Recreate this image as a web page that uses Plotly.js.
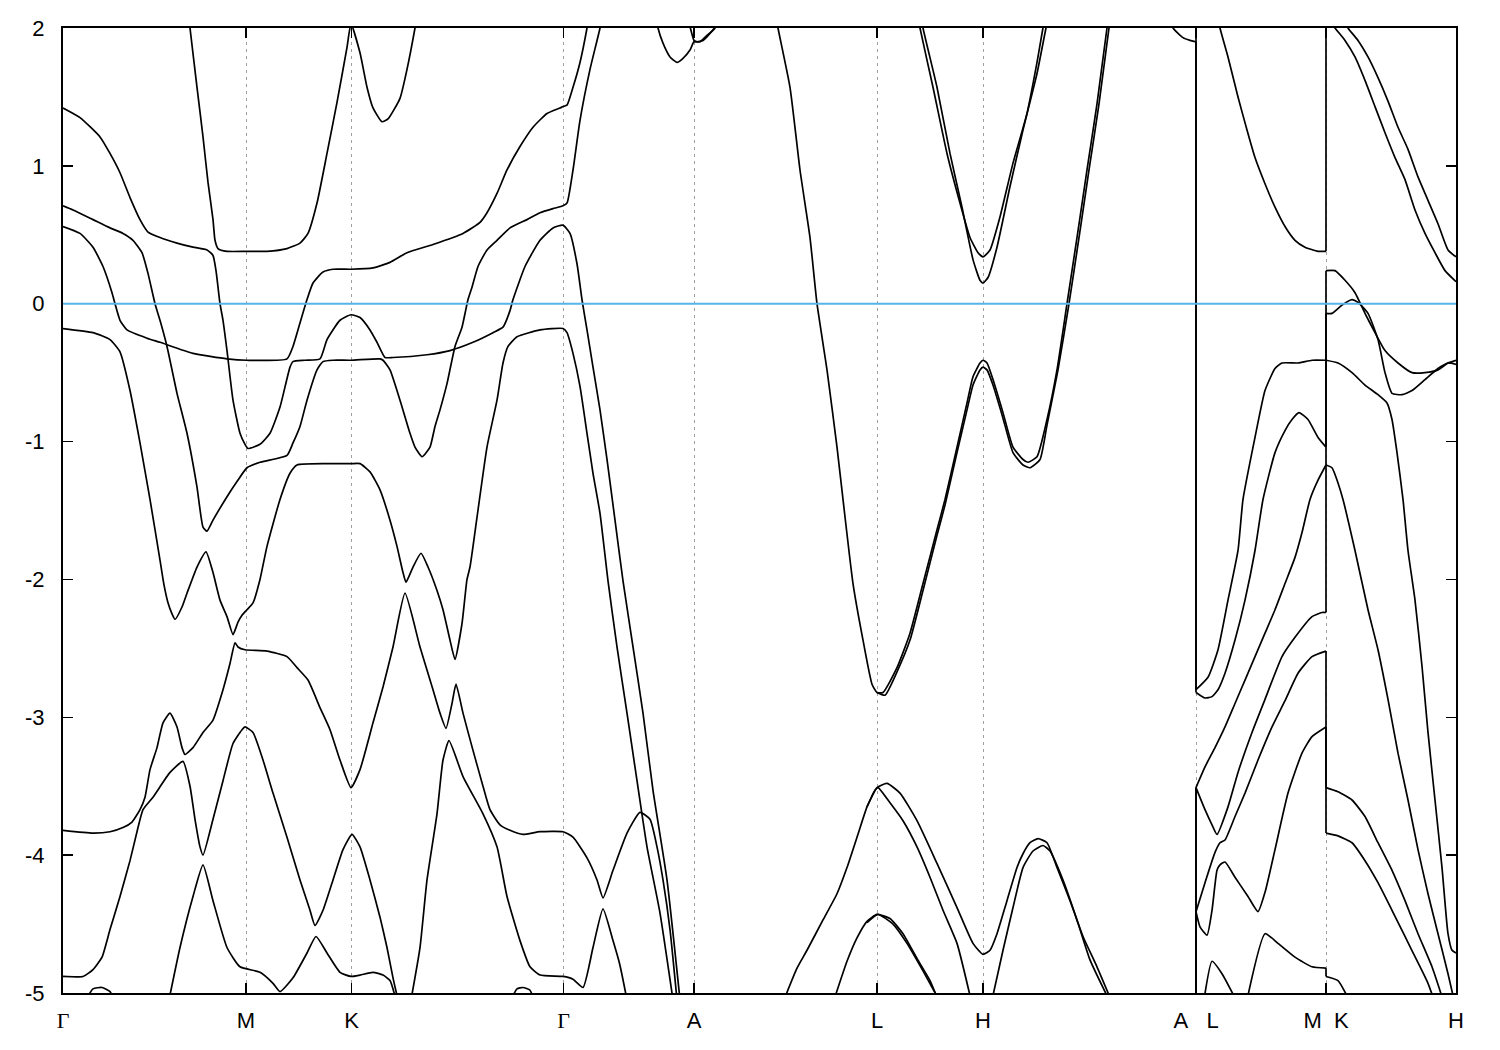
<!DOCTYPE html>
<html>
<head>
<meta charset="utf-8">
<script src="https://cdn.plot.ly/plotly-3.0.1.min.js"></script>
<style>html,body{margin:0;padding:0;background:#fff;}#plot{width:1500px;height:1050px;}</style>
</head>
<body>
<div id="plot"></div>
<script>
// ---- axis / tick data ----
const kTicks = [0.00, 1.83, 2.885, 5.005, 6.31, 8.14, 9.20, 11.33, 12.63, 13.93];
const kTickLabels = ['<span style="font-family:\'Liberation Serif\',\'DejaVu Serif\',serif">Γ</span>', 'M', 'K',
  '<span style="font-family:\'Liberation Serif\',\'DejaVu Serif\',serif">Γ</span>', 'A', 'L', 'H',
  'A\u00a0\u00a0\u00a0L', 'M\u00a0\u00a0K', 'H'];
const eTicks = [-5, -4, -3, -2, -1, 0, 1, 2];
const eTickLabels = ['-5', '-4', '-3', '-2', '-1', '0', '1', '2'];
const kRange = [0, 13.93];
const eRange = [-5, 2];
const fermiLevel = 0;

// ---- bands: [k, E] pairs ----
const bandA = [[0.00,1.42],[0.17,1.35],[0.37,1.21],[0.47,1.09],[0.57,0.95],[0.67,0.77],[0.77,0.61],[0.85,0.52],[0.97,0.48],[1.14,0.44],
 [1.30,0.41],[1.44,0.39],[1.50,0.35],[1.53,0.24],[1.57,0.00],[1.60,-0.12],[1.64,-0.34],[1.70,-0.70],[1.77,-0.94],[1.82,-1.02],
 [1.85,-1.05],[1.97,-1.02],[2.07,-0.94],[2.17,-0.75],[2.27,-0.46],[2.30,-0.42],[2.42,-0.41],[2.57,-0.40],[2.64,-0.26],[2.77,-0.12],
 [2.88,-0.08],[2.97,-0.10],[3.07,-0.19],[3.14,-0.28],[3.22,-0.39],[3.30,-0.39],[3.64,-0.37],[3.87,-0.34],[4.10,-0.28],[4.30,-0.21],
 [4.40,-0.17],[4.47,-0.05],[4.50,0.03],[4.62,0.27],[4.77,0.46],[4.90,0.55],[5.00,0.57],[5.07,0.51],[5.14,0.29],[5.19,0.03],
 [5.24,-0.19],[5.30,-0.46],[5.37,-0.77],[5.44,-1.13],[5.52,-1.57],[5.60,-2.01],[5.70,-2.49],[5.80,-2.97],[5.90,-3.53],[6.04,-4.18],[6.17,-5.05]];

const bandB = [[1.25,2.13],[1.27,2.00],[1.34,1.57],[1.40,1.21],[1.45,0.88],[1.50,0.61],[1.52,0.46],[1.55,0.40],[1.64,0.38],[1.84,0.38],[2.04,0.38],
 [2.24,0.40],[2.37,0.44],[2.45,0.51],[2.54,0.73],[2.64,1.09],[2.74,1.46],[2.84,1.86],[2.88,2.03],[2.97,1.82],[3.04,1.57],
 [3.10,1.42],[3.19,1.32],[3.25,1.34],[3.37,1.49],[3.44,1.70],[3.52,2.00],[3.55,2.13]];

const bandC = [[0.00,0.71],[0.10,0.68],[0.30,0.61],[0.47,0.55],[0.60,0.51],[0.70,0.46],[0.79,0.37],[0.85,0.22],[0.92,0.00],[0.97,-0.12],
 [1.04,-0.31],[1.14,-0.65],[1.24,-0.94],[1.34,-1.33],[1.40,-1.62],[1.44,-1.65],[1.50,-1.57],[1.64,-1.40],[1.74,-1.29],[1.84,-1.19],
 [1.97,-1.15],[2.24,-1.10],[2.30,-1.01],[2.37,-0.89],[2.44,-0.70],[2.54,-0.48],[2.60,-0.42],[2.70,-0.41],[2.88,-0.41],[3.17,-0.40],
 [3.20,-0.41],[3.27,-0.48],[3.37,-0.70],[3.47,-0.94],[3.52,-1.04],[3.59,-1.11],[3.67,-1.04],[3.72,-0.89],[3.77,-0.77],[3.84,-0.58],
 [3.92,-0.31],[3.99,-0.17],[4.05,0.03],[4.09,0.12],[4.15,0.27],[4.24,0.39],[4.34,0.46],[4.47,0.55],[4.64,0.61],[4.77,0.66],
 [4.90,0.69],[5.00,0.71],[5.04,0.73],[5.10,0.97],[5.17,1.33],[5.27,1.70],[5.37,2.00],[5.40,2.13]];

const bandD = [[0.00,0.56],[0.17,0.51],[0.30,0.41],[0.40,0.27],[0.49,0.08],[0.52,0.00],[0.57,-0.12],[0.64,-0.19],[0.84,-0.25],[0.97,-0.28],
 [1.30,-0.36],[1.64,-0.40],[1.84,-0.41],[2.24,-0.40],[2.30,-0.31],[2.37,-0.14],[2.44,0.03],[2.50,0.15],[2.60,0.23],[2.70,0.25],
 [2.88,0.25],[3.10,0.26],[3.27,0.30],[3.44,0.37],[3.70,0.43],[4.00,0.51],[4.17,0.59],[4.24,0.66],[4.34,0.80],[4.44,0.97],
 [4.57,1.14],[4.70,1.28],[4.84,1.38],[4.97,1.42],[5.00,1.43],[5.04,1.44],[5.10,1.57],[5.17,1.75],[5.24,2.00],[5.26,2.09]];

const bandE = [[0.00,-0.18],[0.30,-0.21],[0.47,-0.26],[0.57,-0.35],[0.67,-0.63],[0.77,-1.01],[0.87,-1.42],[0.97,-1.86],[1.01,-2.04],[1.05,-2.17],
 [1.09,-2.25],[1.12,-2.29],[1.19,-2.20],[1.24,-2.10],[1.34,-1.91],[1.43,-1.80],[1.50,-1.95],[1.57,-2.15],[1.64,-2.27],[1.70,-2.40],
 [1.75,-2.31],[1.79,-2.26],[1.84,-2.22],[1.90,-2.17],[1.97,-2.00],[2.04,-1.76],[2.17,-1.42],[2.27,-1.23],[2.34,-1.17],[2.64,-1.16],
 [2.88,-1.16],[2.97,-1.16],[3.07,-1.22],[3.17,-1.35],[3.27,-1.57],[3.34,-1.76],[3.40,-1.95],[3.43,-2.02],[3.50,-1.91],[3.58,-1.81],
 [3.65,-1.91],[3.74,-2.08],[3.80,-2.22],[3.87,-2.44],[3.92,-2.58],[3.99,-2.32],[4.04,-2.00],[4.07,-1.91],[4.14,-1.55],[4.24,-1.04],
 [4.34,-0.70],[4.40,-0.43],[4.45,-0.31],[4.54,-0.24],[4.77,-0.19],[5.00,-0.18],[5.04,-0.21],[5.10,-0.36],[5.17,-0.60],[5.24,-0.94],
 [5.30,-1.23],[5.37,-1.52],[5.45,-2.01],[5.54,-2.49],[5.64,-2.97],[5.74,-3.46],[5.84,-3.94],[5.97,-4.42],[6.10,-5.05]];

const bandF = [[0.00,-3.82],[0.30,-3.84],[0.47,-3.83],[0.60,-3.80],[0.69,-3.76],[0.77,-3.67],[0.82,-3.58],[0.87,-3.38],[0.94,-3.22],[1.00,-3.04],
 [1.07,-2.97],[1.14,-3.07],[1.19,-3.22],[1.22,-3.27],[1.30,-3.22],[1.40,-3.11],[1.50,-3.02],[1.60,-2.80],[1.67,-2.61],[1.72,-2.46],
 [1.75,-2.49],[1.82,-2.51],[2.04,-2.52],[2.24,-2.56],[2.34,-2.64],[2.45,-2.73],[2.57,-2.93],[2.67,-3.09],[2.77,-3.31],[2.88,-3.51],
 [2.97,-3.38],[3.10,-3.04],[3.20,-2.78],[3.30,-2.49],[3.42,-2.10],[3.57,-2.49],[3.70,-2.80],[3.77,-2.97],[3.83,-3.08],[3.89,-2.90],
 [3.93,-2.76],[4.00,-2.97],[4.10,-3.24],[4.20,-3.50],[4.27,-3.67],[4.37,-3.78],[4.47,-3.82],[4.60,-3.85],[4.77,-3.83],[5.00,-3.83],
 [5.10,-3.87],[5.24,-4.02],[5.34,-4.18],[5.40,-4.31],[5.50,-4.11],[5.64,-3.84],[5.77,-3.69],[5.87,-3.74],[5.94,-3.94],[6.00,-4.18],
 [6.07,-4.54],[6.14,-5.05]];

const bandG = [[0.00,-4.88],[0.20,-4.88],[0.30,-4.83],[0.39,-4.74],[0.47,-4.54],[0.57,-4.30],[0.67,-4.04],[0.75,-3.80],[0.80,-3.67],[0.90,-3.58],
 [1.07,-3.40],[1.20,-3.32],[1.27,-3.50],[1.32,-3.74],[1.37,-3.94],[1.40,-4.00],[1.50,-3.74],[1.60,-3.46],[1.70,-3.19],[1.79,-3.09],
 [1.82,-3.07],[1.90,-3.11],[2.00,-3.31],[2.10,-3.55],[2.24,-3.87],[2.37,-4.18],[2.47,-4.40],[2.52,-4.51],[2.60,-4.40],[2.70,-4.18],
 [2.80,-3.96],[2.89,-3.85],[2.97,-3.94],[3.07,-4.18],[3.17,-4.45],[3.24,-4.67],[3.30,-4.89],[3.35,-5.05]];

const bandH = [[1.06,-5.05],[1.17,-4.67],[1.30,-4.30],[1.40,-4.07],[1.50,-4.33],[1.64,-4.67],[1.77,-4.81],[1.97,-4.85],[2.10,-4.93],[2.17,-4.99],
 [2.30,-4.89],[2.44,-4.71],[2.53,-4.59],[2.64,-4.71],[2.77,-4.85],[2.88,-4.88],[2.97,-4.87],[3.10,-4.85],[3.20,-4.87],[3.27,-4.91],[3.33,-5.05]];

const bandI = [[3.48,-5.05],[3.57,-4.67],[3.64,-4.18],[3.74,-3.70],[3.80,-3.31],[3.86,-3.17],[4.00,-3.43],[4.20,-3.70],[4.34,-3.94],[4.44,-4.30],
 [4.57,-4.62],[4.67,-4.81],[4.77,-4.87],[5.00,-4.88],[5.10,-4.90],[5.20,-4.96],[5.30,-4.67],[5.40,-4.39],[5.50,-4.62],[5.57,-4.80],[5.64,-5.05]];

const bandJ = [[0.23,-5.05],[0.30,-4.97],[0.39,-4.96],[0.47,-4.99],[0.51,-5.05]];
const bandK = [[4.48,-5.05],[4.54,-4.97],[4.60,-4.96],[4.67,-4.98],[4.71,-5.05]];

const bandL = [[7.13,2.09],[7.15,2.00],[7.27,1.57],[7.37,0.97],[7.47,0.48],[7.54,0.00],[7.64,-0.48],[7.74,-1.04],[7.80,-1.42],[7.90,-2.03],
 [8.00,-2.44],[8.09,-2.76],[8.14,-2.82],[8.20,-2.82],[8.34,-2.64],[8.47,-2.39],[8.60,-2.03],[8.74,-1.64],[8.82,-1.42],[8.94,-1.04],
 [9.04,-0.72],[9.10,-0.53],[9.17,-0.43],[9.20,-0.41],[9.24,-0.43],[9.30,-0.55],[9.40,-0.79],[9.50,-1.04],[9.60,-1.13],[9.65,-1.15],
 [9.74,-1.11],[9.84,-0.84],[9.94,-0.48],[10.04,0.00],[10.14,0.48],[10.24,0.97],[10.34,1.45],[10.44,2.00],[10.46,2.09]];

const bandM = [[8.14,-2.82],[8.22,-2.84],[8.34,-2.67],[8.47,-2.44],[8.60,-2.08],[8.74,-1.68],[8.82,-1.46],[8.94,-1.08],[9.04,-0.77],[9.10,-0.59],
 [9.17,-0.48],[9.20,-0.46],[9.24,-0.48],[9.30,-0.59],[9.40,-0.83],[9.50,-1.08],[9.60,-1.17],[9.67,-1.19],[9.77,-1.13],[9.84,-0.88],
 [9.95,-0.48],[10.06,0.00],[10.16,0.48],[10.26,0.97],[10.36,1.45],[10.46,2.00],[10.48,2.09]];

const bandN = [[8.55,2.09],[8.57,2.00],[8.70,1.57],[8.84,1.09],[8.97,0.73],[9.07,0.48],[9.15,0.37],[9.20,0.34],[9.27,0.39],[9.37,0.63],
 [9.50,1.02],[9.64,1.38],[9.74,1.75],[9.80,2.00],[9.83,2.09]];
const bandO = [[8.58,2.09],[8.60,2.00],[8.74,1.57],[8.87,1.09],[8.99,0.70],[9.10,0.32],[9.17,0.17],[9.20,0.15],[9.25,0.19],[9.34,0.41],
 [9.47,0.85],[9.60,1.26],[9.74,1.67],[9.83,2.00],[9.86,2.09]];

const bandP = [[7.21,-5.05],[7.34,-4.82],[7.44,-4.69],[7.60,-4.47],[7.74,-4.28],[7.84,-4.09],[7.94,-3.87],[8.04,-3.65],[8.12,-3.53],[8.15,-3.51],
 [8.27,-3.62],[8.40,-3.75],[8.54,-3.94],[8.67,-4.16],[8.80,-4.40],[8.94,-4.64],[9.08,-5.05]];
const bandQ = [[8.04,-3.65],[8.14,-3.51],[8.24,-3.48],[8.37,-3.55],[8.54,-3.75],[8.74,-4.06],[8.94,-4.38],[9.10,-4.64],[9.20,-4.72],[9.27,-4.69],
 [9.34,-4.57],[9.44,-4.33],[9.54,-4.09],[9.60,-3.99],[9.67,-3.91],[9.75,-3.88],[9.84,-3.91],[9.94,-4.09],[10.07,-4.33],[10.20,-4.59],
 [10.34,-4.81],[10.48,-5.05]];
const bandR = [[9.29,-5.05],[9.40,-4.69],[9.50,-4.38],[9.60,-4.09],[9.70,-3.97],[9.80,-3.93],[9.87,-3.97],[10.00,-4.18],[10.14,-4.47],[10.27,-4.76],[10.46,-5.05]];
const bandS = [[7.71,-5.05],[7.84,-4.77],[7.94,-4.60],[8.04,-4.48],[8.14,-4.43],[8.27,-4.46],[8.40,-4.57],[8.54,-4.75],[8.67,-4.91],[8.75,-5.05]];
const bandT = [[8.04,-4.49],[8.15,-4.43],[8.30,-4.50],[8.44,-4.64],[8.60,-4.84],[8.76,-5.05]];

const bandU = [[5.93,2.09],[5.95,2.00],[6.00,1.89],[6.07,1.79],[6.14,1.75],[6.20,1.78],[6.27,1.84],[6.31,1.90],[6.37,1.90],[6.43,1.94],[6.52,2.00],[6.55,2.09]];
const bandV = [[6.24,2.09],[6.27,2.01],[6.31,1.91],[6.34,1.90],[6.40,1.91],[6.47,1.96],[6.53,2.02],[6.55,2.09]];

// H–A end, jump at A|L, L–M, jump at M|K, K–H
const bandW = [[11.07,2.06],[11.10,2.00],[11.20,1.93],[11.27,1.91],[11.33,1.90],
 [11.33,-2.82],[11.42,-2.86],[11.49,-2.85],[11.55,-2.80],[11.62,-2.68],[11.72,-2.44],[11.82,-2.15],[11.92,-1.79],[12.00,-1.42],[12.12,-1.08],
 [12.22,-0.92],[12.29,-0.84],[12.36,-0.79],[12.45,-0.84],[12.55,-0.97],[12.63,-1.04],
 [12.63,-0.07],[12.69,-0.07],[12.79,-0.01],[12.89,0.03],[12.95,0.01],[13.05,-0.07],[13.15,-0.26],[13.22,-0.50],[13.29,-0.65],[13.39,-0.66],
 [13.49,-0.63],[13.62,-0.55],[13.75,-0.47],[13.85,-0.43],[13.93,-0.44]];

const bandX = [[11.33,2.40],[11.33,-2.80],[11.45,-2.71],[11.55,-2.51],[11.65,-2.15],[11.75,-1.79],[11.80,-1.42],[11.92,-0.97],[12.02,-0.63],[12.12,-0.47],
 [12.19,-0.43],[12.35,-0.43],[12.49,-0.41],[12.63,-0.41],
 [12.63,0.24],[12.72,0.24],[12.82,0.17],[12.92,0.08],[13.02,-0.07],[13.12,-0.21],[13.22,-0.34],[13.35,-0.43],[13.49,-0.50],[13.62,-0.50],
 [13.75,-0.48],[13.85,-0.43],[13.93,-0.41]];

const bandY = [[11.55,2.09],[11.57,2.00],[11.65,1.79],[11.75,1.50],[11.84,1.26],[11.92,1.06],[12.02,0.87],[12.12,0.70],[12.22,0.56],[12.32,0.46],
 [12.42,0.41],[12.55,0.38],[12.63,0.38],
 [12.63,2.10],[12.72,2.00],[12.82,1.91],[12.92,1.79],[13.02,1.62],[13.12,1.43],[13.22,1.24],[13.32,1.06],[13.42,0.90],[13.52,0.68],
 [13.62,0.51],[13.72,0.37],[13.82,0.24],[13.93,0.16]];

const bandZ = [[12.80,2.09],[12.85,2.00],[12.95,1.91],[13.05,1.79],[13.15,1.64],[13.25,1.47],[13.35,1.28],[13.45,1.12],[13.55,0.92],[13.65,0.75],
 [13.75,0.58],[13.85,0.39],[13.93,0.34]];

const bandQ3 = [[11.33,-5.30],[11.33,-3.51],[11.42,-3.36],[11.52,-3.22],[11.62,-3.07],[11.72,-2.90],[11.82,-2.73],[11.92,-2.56],[12.02,-2.39],[12.12,-2.22],
 [12.22,-2.03],[12.32,-1.84],[12.39,-1.66],[12.47,-1.42],[12.55,-1.28],[12.63,-1.17],
 [12.63,-0.41],[12.75,-0.43],[12.89,-0.50],[13.02,-0.59],[13.15,-0.66],[13.24,-0.72],[13.29,-0.84],[13.34,-1.08],[13.40,-1.42],[13.45,-1.79],
 [13.52,-2.15],[13.59,-2.63],[13.65,-3.11],[13.72,-3.60],[13.79,-4.09],[13.85,-4.57],[13.89,-4.69],[13.93,-4.71]];

const bandQ4 = [[11.33,-5.30],[11.33,-3.51],[11.42,-3.67],[11.49,-3.78],[11.54,-3.85],[11.65,-3.65],[11.75,-3.40],[11.89,-3.11],[12.02,-2.87],[12.19,-2.56],
 [12.32,-2.42],[12.49,-2.27],[12.59,-2.24],[12.63,-2.24],
 [12.63,-1.17],[12.69,-1.19],[12.75,-1.30],[12.80,-1.42],[12.92,-1.79],[13.05,-2.22],[13.15,-2.51],[13.25,-2.87],[13.35,-3.26],[13.45,-3.60],
 [13.55,-3.96],[13.65,-4.28],[13.75,-4.57],[13.85,-4.86],[13.91,-5.05]];

const bandQ5 = [[11.33,-5.30],[11.33,-4.41],[11.42,-4.20],[11.52,-3.98],[11.57,-3.91],[11.62,-3.89],[11.72,-3.72],[11.82,-3.55],[11.95,-3.31],[12.09,-3.07],
 [12.22,-2.88],[12.35,-2.68],[12.49,-2.56],[12.63,-2.52],
 [12.63,-3.51],[12.75,-3.54],[12.89,-3.60],[13.02,-3.72],[13.15,-3.91],[13.29,-4.11],[13.42,-4.33],[13.55,-4.57],[13.69,-4.81],[13.80,-5.05]];

const bandQ6 = [[11.33,-5.30],[11.33,-4.41],[11.37,-4.52],[11.44,-4.58],[11.49,-4.40],[11.54,-4.11],[11.57,-4.07],[11.62,-4.05],[11.72,-4.16],[11.85,-4.30],
 [11.95,-4.41],[12.02,-4.27],[12.12,-3.96],[12.25,-3.55],[12.39,-3.26],[12.49,-3.14],[12.63,-3.07],
 [12.63,-3.84],[12.75,-3.86],[12.89,-3.91],[13.02,-4.04],[13.15,-4.20],[13.29,-4.40],[13.42,-4.59],[13.55,-4.78],[13.65,-4.93],[13.71,-5.05]];

const bandQ7 = [[11.41,-5.05],[11.49,-4.77],[11.59,-4.86],[11.73,-5.05]];
const bandQ8 = [[11.84,-5.05],[12.02,-4.57],[12.15,-4.64],[12.32,-4.74],[12.49,-4.81],[12.63,-4.82],
 [12.63,-4.88],[12.75,-4.91],[12.86,-5.05]];

const bands = [bandA, bandB, bandC, bandD, bandE, bandF, bandG, bandH, bandI, bandJ, bandK,
  bandL, bandM, bandN, bandO, bandP, bandQ, bandR, bandS, bandT, bandU, bandV,
  bandW, bandX, bandY, bandZ, bandQ3, bandQ4, bandQ5, bandQ6, bandQ7, bandQ8];

// split each band at path discontinuities (same k twice): smooth pieces + straight jump pieces
const traces = [];
const lineStyle = {color: '#000000', width: 1.7};
bands.forEach(b => {
  let piece = [b[0]];
  for (let i = 1; i < b.length; i++) {
    if (b[i][0] === b[i - 1][0]) {
      if (piece.length > 1) traces.push(makeTrace(piece, true));
      traces.push(makeTrace([b[i - 1], b[i]], false));
      piece = [b[i]];
    } else {
      piece.push(b[i]);
    }
  }
  if (piece.length > 1) traces.push(makeTrace(piece, true));
});
function makeTrace(pts, smooth) {
  return {
    x: pts.map(p => p[0]),
    y: pts.map(p => p[1]),
    type: 'scatter',
    mode: 'lines',
    line: smooth ? Object.assign({shape: 'spline', smoothing: 0.5}, lineStyle) : lineStyle,
    showlegend: false,
    hoverinfo: 'skip'
  };
}

const fontMain = {family: "'Liberation Sans', Arial, sans-serif", size: 22, color: '#000000'};

const layout = {
  width: 1500,
  height: 1050,
  margin: {l: 63, r: 44, t: 28, b: 57, pad: 0},
  paper_bgcolor: '#ffffff',
  plot_bgcolor: '#ffffff',
  showlegend: false,
  font: fontMain,
  xaxis: {
    range: kRange,
    tickvals: kTicks,
    ticktext: kTickLabels,
    ticks: 'inside', ticklen: 10, tickwidth: 1.5, tickcolor: '#000000',
    mirror: 'ticks', showline: true, linecolor: '#000000', linewidth: 2,
    showgrid: true, gridcolor: '#a0a0a0', gridwidth: 1, griddash: '3px,4px',
    zeroline: false, tickfont: fontMain, ticklabelstandoff: 7, fixedrange: true
  },
  yaxis: {
    range: eRange,
    tickvals: eTicks,
    ticktext: eTickLabels,
    ticks: 'inside', ticklen: 10, tickwidth: 1.5, tickcolor: '#000000',
    mirror: 'ticks', showline: true, linecolor: '#000000', linewidth: 2,
    showgrid: false, zeroline: false, tickfont: fontMain, ticklabelstandoff: 12, fixedrange: true
  },
  shapes: [{
    type: 'line', xref: 'paper', yref: 'y', x0: 0, x1: 1, y0: fermiLevel, y1: fermiLevel,
    line: {color: '#56b4e9', width: 2}, layer: 'above'
  }]
};

Plotly.newPlot('plot', traces, layout, {staticPlot: true, displayModeBar: false});
</script>
</body>
</html>
